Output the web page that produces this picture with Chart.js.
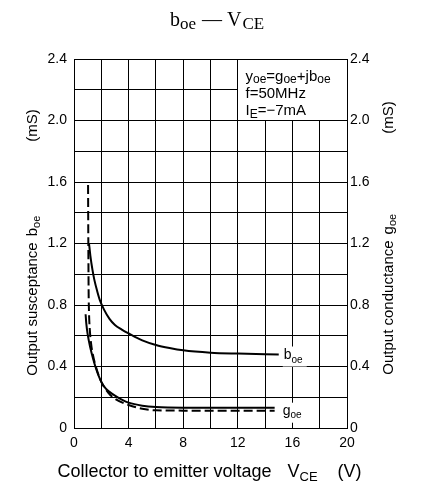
<!DOCTYPE html>
<html>
<head>
<meta charset="utf-8">
<script src="https://cdn.jsdelivr.net/npm/chart.js@4.4.1/dist/chart.umd.min.js"></script>
<style>
  body { margin: 0; background: #fff; }
  canvas { display: block; }
</style>
</head>
<body>
<canvas id="boeChart" width="426" height="485"></canvas>
<script>
// values (V_CE in volts, admittance in mS)
const vceB = [1.1, 1.2, 1.35, 1.5, 1.7, 1.9, 2.2, 2.6, 3.0, 3.5, 4.0, 5.0, 6.0, 7.0, 8.0, 10.0, 12.0, 15.0];
const bOe = [1.20, 1.12, 1.03, 0.96, 0.89, 0.83, 0.77, 0.71, 0.67, 0.64, 0.615, 0.57, 0.54, 0.52, 0.505, 0.49, 0.484, 0.478];

const vceG = [0.85, 0.9, 1.0, 1.2, 1.4, 1.6, 1.8, 2.0, 2.3, 2.6, 3.0, 3.5, 4.0, 5.0, 6.0, 8.0, 10.0, 14.7];
const gOe = [0.74, 0.68, 0.61, 0.52, 0.45, 0.39, 0.34, 0.30, 0.26, 0.235, 0.21, 0.185, 0.165, 0.145, 0.136, 0.132, 0.132, 0.132];

// dashed g_oe curve
const vceG2 = [1.03, 1.05, 1.07, 1.1, 1.15, 1.25, 1.4, 1.6, 2.0, 2.5, 3.0, 4.0, 5.0, 6.0, 8.0, 14.7];
const gOe2 = [1.58, 1.20, 0.90, 0.75, 0.65, 0.55, 0.47, 0.40, 0.30, 0.23, 0.19, 0.15, 0.125, 0.115, 0.113, 0.113];

const xTicks = [0, 4, 8, 12, 16, 20];
const yTicks = ['0', '0.4', '0.8', '1.2', '1.6', '2.0', '2.4'];

const SANS = '"Liberation Sans", Arial, sans-serif';
const SERIF = '"Liberation Serif", "Times New Roman", serif';

const toPoints = (xs, ys) => xs.map((v, i) => ({ x: v, y: ys[i] }));

// draw a run of text pieces (normal + subscript), centred on cx
function richText(ctx, parts, cx, y) {
  let total = 0;
  parts.forEach(p => {
    ctx.font = p.font;
    p.w = ctx.measureText(p.t).width;
    total += (p.gap || 0) + p.w;
  });
  let x = cx - total / 2;
  parts.forEach(p => {
    x += p.gap || 0;
    ctx.font = p.font;
    ctx.fillText(p.t, x, y + (p.dy || 0));
    x += p.w;
  });
}

function leftText(ctx, parts, x, y) {
  parts.forEach(p => {
    ctx.font = p.font;
    ctx.fillText(p.t, x, y + (p.dy || 0));
    x += ctx.measureText(p.t).width;
  });
  return x;
}

const al = p => Math.round(p - 0.5) + 0.5;

const overlay = {
  id: 'overlay',
  beforeDatasetsDraw(chart) {
    const { ctx, chartArea: a, scales: { x, y } } = chart;
    const L = al(x.getPixelForValue(12));
    const B = al(y.getPixelForValue(2.0));
    const T = al(a.top), R = al(a.right);
    ctx.save();
    // condition box, no grid inside
    ctx.fillStyle = '#fff';
    ctx.fillRect(L + 0.5, T + 0.5, R - L - 1, B - T - 1);
    ctx.strokeStyle = '#000';
    ctx.lineWidth = 1;
    ctx.beginPath();
    ctx.moveTo(L, T); ctx.lineTo(L, B); ctx.lineTo(R, B);
    ctx.stroke();
    ctx.strokeRect(al(a.left), T, R - al(a.left), al(a.bottom) - T);

    ctx.fillStyle = '#000';
    ctx.textBaseline = 'alphabetic';
    const m = '15px ' + SANS, s = '12px ' + SANS;
    const tx = L + 8;
    leftText(ctx, [
      { t: 'y', font: m }, { t: 'oe', font: s, dy: 2 },
      { t: '=g', font: m }, { t: 'oe', font: s, dy: 2 },
      { t: '+jb', font: m }, { t: 'oe', font: s, dy: 2 }
    ], tx, T + 21);
    leftText(ctx, [{ t: 'f=50MHz', font: m }], tx, T + 38);
    leftText(ctx, [
      { t: 'I', font: m }, { t: 'E', font: s, dy: 3 }, { t: '=\u22127mA', font: m }
    ], tx, T + 55);

    // curve labels on white patches
    const lm = '14px ' + SANS, ls = '10px ' + SANS;
    const bx = x.getPixelForValue(vceB[vceB.length - 1]) + 5;
    const by = y.getPixelForValue(bOe[bOe.length - 1]) + 4;
    const gx = x.getPixelForValue(vceG[vceG.length - 1]) + 8;
    const gy = y.getPixelForValue(gOe[gOe.length - 1]) + 7;
    ctx.fillStyle = '#fff';
    ctx.fillRect(bx - 1, by - 12, 24, 20);
    ctx.fillRect(gx - 1, gy - 12, 24, 20);
    ctx.fillStyle = '#000';
    leftText(ctx, [{ t: 'b', font: lm }, { t: 'oe', font: ls, dy: 4 }], bx, by);
    leftText(ctx, [{ t: 'g', font: lm }, { t: 'oe', font: ls, dy: 3 }], gx, gy);
    ctx.restore();
  },
  afterDraw(chart) {
    const { ctx } = chart;
    ctx.save();
    ctx.fillStyle = '#000';
    ctx.textBaseline = 'alphabetic';

    // title
    richText(ctx, [
      { t: 'b', font: '20px ' + SERIF },
      { t: 'oe', font: '17px ' + SERIF, dy: 3 },
      { t: '\u2014', font: '20px ' + SERIF, gap: 6 },
      { t: 'V', font: '20px ' + SERIF, gap: 5 },
      { t: 'CE', font: '17px ' + SERIF, dy: 3, gap: 1 }
    ], 217, 26);

    // x axis title
    const xm = '18px ' + SANS, xs = '13px ' + SANS;
    richText(ctx, [
      { t: 'Collector to emitter voltage', font: xm },
      { t: 'V', font: xm, gap: 16 },
      { t: 'CE', font: xs, dy: 4 },
      { t: '(V)', font: xm, gap: 20 }
    ], 209.5, 477);

    const ym = '15px ' + SANS, ys = '11px ' + SANS;
    // left y title
    ctx.save();
    ctx.translate(37, 242.5);
    ctx.rotate(-Math.PI / 2);
    richText(ctx, [
      { t: 'Output susceptance', font: ym },
      { t: 'b', font: ym, gap: 6 },
      { t: 'oe', font: ys, dy: 3 },
      { t: '(mS)', font: ym, gap: 74 }
    ], 0, 0);
    ctx.restore();

    // right y title
    ctx.save();
    ctx.translate(393, 238);
    ctx.rotate(-Math.PI / 2);
    richText(ctx, [
      { t: 'Output conductance', font: ym },
      { t: 'g', font: ym, gap: 6 },
      { t: 'oe', font: ys, dy: 3 },
      { t: '(mS)', font: ym, gap: 80 }
    ], 0, 0);
    ctx.restore();
    ctx.restore();
  }
};

const yLabel = v => {
  const k = Math.round(v * 10);
  return k % 4 === 0 ? yTicks[k / 4] : '';
};
const xLabel = v => (xTicks.includes(v) ? String(v) : '');

const gridOpts = { color: '#000', lineWidth: 1, drawTicks: false };
const borderOpts = { color: '#000', width: 1 };
const tickFont = { family: SANS, size: 14 };

new Chart(document.getElementById('boeChart'), {
  type: 'line',
  data: {
    datasets: [
      {
        label: 'b_oe',
        data: toPoints(vceB, bOe),
        borderColor: '#000',
        borderWidth: 2,
        pointRadius: 0,
        cubicInterpolationMode: 'monotone',
        fill: false
      },
      {
        label: 'g_oe',
        data: toPoints(vceG, gOe),
        borderColor: '#000',
        borderWidth: 2,
        pointRadius: 0,
        cubicInterpolationMode: 'monotone',
        fill: false
      },
      {
        label: 'g_oe dashed',
        data: toPoints(vceG2, gOe2),
        borderColor: '#000',
        borderWidth: 2,
        borderDash: [9, 4],
        pointRadius: 0,
        cubicInterpolationMode: 'monotone',
        fill: false
      }
    ]
  },
  options: {
    responsive: false,
    animation: false,
    devicePixelRatio: 1,
    layout: { padding: { top: 59, left: 0, right: 0, bottom: 0 } },
    scales: {
      x: {
        type: 'linear',
        position: 'bottom',
        min: 0,
        max: 20,
        grid: gridOpts,
        border: borderOpts,
        ticks: { stepSize: 2, autoSkip: false, maxRotation: 0, callback: xLabel, color: '#000', font: tickFont, padding: 7 },
        afterFit: s => { s.height = 57; }
      },
      y: {
        position: 'left',
        min: 0,
        max: 2.4,
        grid: gridOpts,
        border: borderOpts,
        ticks: { stepSize: 0.2, autoSkip: false, callback: yLabel, color: '#000', font: tickFont, padding: 7 },
        afterFit: s => { s.width = 74; }
      },
      y2: {
        position: 'right',
        min: 0,
        max: 2.4,
        grid: { display: false, drawTicks: false },
        border: borderOpts,
        ticks: { stepSize: 0.2, autoSkip: false, callback: yLabel, color: '#000', font: tickFont, padding: 3 },
        afterFit: s => { s.width = 79; }
      }
    },
    plugins: {
      legend: { display: false },
      tooltip: { enabled: false }
    }
  },
  plugins: [overlay]
});
</script>
</body>
</html>
